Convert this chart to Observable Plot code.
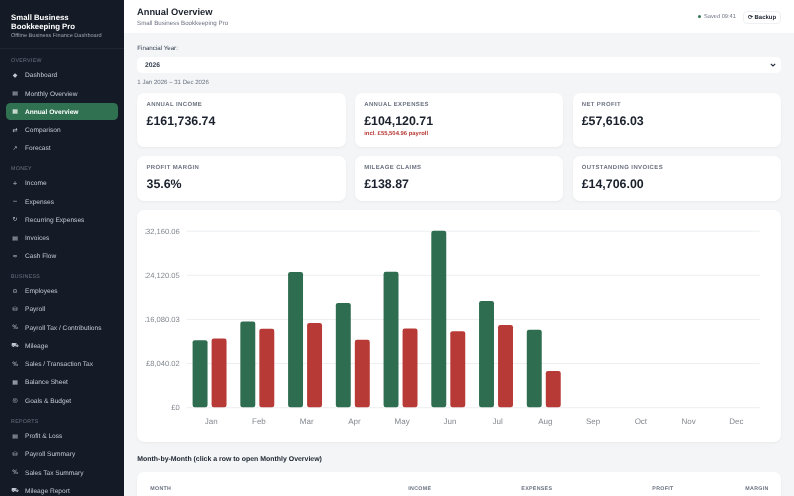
<!DOCTYPE html>
<html><head><meta charset="utf-8">
<script src="https://cdn.jsdelivr.net/npm/d3@7"></script>
<script src="https://cdn.jsdelivr.net/npm/@observablehq/plot@0.6"></script>
<style>
*{box-sizing:border-box;text-rendering:geometricPrecision}
html,body{margin:0;padding:0;width:794px;height:496px;overflow:hidden;background:#f3f5f7;font-family:"Liberation Sans",Arial,sans-serif;color:#1a202c}
#page{position:absolute;left:0;top:0;width:794px;height:496px;overflow:hidden;background:#f3f5f7;filter:blur(.3px)}
#side{position:absolute;left:0;top:0;width:124px;height:496px;background:#151b26;overflow:hidden}
#side .abs{position:absolute;white-space:nowrap}
.brand{left:11px;top:12.9px;font-size:7.8px;line-height:9px;font-weight:700;color:#fff;white-space:normal!important;width:105px}
.tag{left:11px;top:33.3px;font-size:5.6px;color:#9aa3b0}
.div{left:0;top:48px;width:124px;height:1px;background:#1f2632}
.sec{left:11px;font-size:5.3px;letter-spacing:.3px;color:#6b7483;line-height:6px}
.item{left:6px;width:112.3px;height:17.8px;line-height:17.8px;font-size:6.6px;color:#c3c9d3;border-radius:4.5px}
.item.on{background:#2f7150;color:#fff;font-weight:700}
.item i{position:absolute;left:4px;top:.8px;width:10px;text-align:center;font-style:normal;font-size:6px;font-family:"DejaVu Sans"}
.item span{position:absolute;left:19px;top:1.2px}
#head{position:absolute;left:124px;top:0;width:670px;height:33px;background:#fff}
#head .t{position:absolute;left:13px;top:7.2px;font-size:9.3px;font-weight:700}
#head .s{position:absolute;left:13px;top:20.4px;font-size:6.2px;color:#6b7280}
#head .sv{position:absolute;left:580px;top:14.2px;font-size:5.7px;color:#6b7280}
#head .dot{position:absolute;left:573.7px;top:15.2px;width:3px;height:3px;border-radius:50%;background:#2f7150}
#head .bk{position:absolute;left:619px;top:10.5px;width:38px;height:13px;line-height:12.6px;border:.7px solid #eef0f3;border-radius:4px;text-align:center;font-size:5.96px;font-weight:700}
.lab{position:absolute;left:137.3px;top:45.4px;font-size:6.2px;color:#374151}
#sel{position:absolute;left:137.3px;top:56.7px;width:643.4px;height:16.6px;line-height:18px;background:#fff;border-radius:5px;font-size:6.75px;color:#374151;padding-left:7.7px;font-weight:700}
#sel svg{position:absolute;right:4.5px;top:6.5px}
.rng{position:absolute;left:137.3px;top:78.8px;font-size:6.1px;color:#6b7280}
.card{position:absolute;background:#fff;border-radius:7px;box-shadow:0 1px 3px rgba(0,0,0,.05)}
.card .k{position:absolute;left:9.2px;top:8.9px;font-size:5.96px;letter-spacing:.4px;color:#6b7280;font-weight:700;white-space:nowrap}
.card .v{position:absolute;left:9.2px;top:21px;font-size:12.4px;font-weight:700;color:#1a202c;white-space:nowrap}
.card .n{position:absolute;left:9.2px;top:38.1px;font-size:5.9px;font-weight:700;color:#b83a36;white-space:nowrap}
#chart{left:137.3px;top:210px;width:643.4px;height:232px}
#plot{position:absolute;left:7.7px;top:0;width:625px;height:232px;overflow:hidden}
#plot svg{display:block;background:transparent;overflow:hidden}
.hr{position:absolute;left:151px;top:446px;width:619px;height:1px;background:#eff1f4}
.h2{position:absolute;left:137.3px;top:456.2px;font-size:6.95px;font-weight:700;color:#1a202c}
#tbl{left:137.3px;top:472px;width:643.4px;height:40px}
.th{position:absolute;top:13.8px;font-size:5.3px;letter-spacing:.3px;font-weight:700;color:#6b7280}
</style></head><body>
<div id="page">
<div id="side"></div><div id="head"></div>
<div class="lab">Financial Year:</div>
<div id="sel">2026<svg width="6" height="4" viewBox="0 0 6 4"><path d="M.8.8 3 3 5.2.8" fill="none" stroke="#1f2937" stroke-width="1.1"/></svg></div>
<div class="rng">1 Jan 2026 – 31 Dec 2026</div>
<div id="cards"></div>
<div class="card" id="chart"><div id="plot"></div></div>
<div class="hr"></div>
<div class="h2">Month-by-Month (click a row to open Monthly Overview)</div>
<div class="card" id="tbl"></div>
</div>
<script>
const months = ["Jan","Feb","Mar","Apr","May","Jun","Jul","Aug","Sep","Oct","Nov","Dec"];
const incomeValues = [12220,15620,24630,18970,24680,32160.06,19340,14116.68];
const expenseValues = [12510,14280,15320,12275,14340,13860,14960,6575.71];
const yTicks = [0,8040.02,16080.03,24120.05,32160.06];
const yTickLabels = ["£0","£8,040.02","£16,080.03","£24,120.05","£32,160.06"];
const incomeColor = "#2e6d4f";
const expenseColor = "#b83a36";

const navGroups = [
 ["OVERVIEW",[["◆","Dashboard"],["▤","Monthly Overview"],["▦","Annual Overview"],["⇄","Comparison"],["↗","Forecast"]]],
 ["MONEY",[["+","Income"],["−","Expenses"],["↻","Recurring Expenses"],["▤","Invoices"],["≈","Cash Flow"]]],
 ["BUSINESS",[["⊙","Employees"],["⛁","Payroll"],["%","Payroll Tax / Contributions"],["⛟","Mileage"],["%","Sales / Transaction Tax"],["▦","Balance Sheet"],["◎","Goals & Budget"]]],
 ["REPORTS",[["▤","Profit & Loss"],["⛁","Payroll Summary"],["%","Sales Tax Summary"],["⛟","Mileage Report"]]]
];
const sectionCenters = [60.3,168.3,276,421];
const cardData = [
 [137.3,93,208.4,53.7,"ANNUAL INCOME","£161,736.74",""],
 [355,93,208.4,53.7,"ANNUAL EXPENSES","£104,120.71","incl. £55,504.96 payroll"],
 [572.5,93,208.2,53.7,"NET PROFIT","£57,616.03",""],
 [137.3,156,208.4,44.7,"PROFIT MARGIN","35.6%",""],
 [355,156,208.4,44.7,"MILEAGE CLAIMS","£138.87",""],
 [572.5,156,208.2,44.7,"OUTSTANDING INVOICES","£14,706.00",""]
];
const tableHeads = [["MONTH",13],["INCOME",271],["EXPENSES",384],["PROFIT",515],["MARGIN",608]];

const side = document.getElementById("side");
let html = '<div class="abs brand">Small Business<br>Bookkeeping Pro</div><div class="abs tag">Offline Business Finance Dashboard</div><div class="abs div"></div>';
navGroups.forEach((g,i)=>{
  const c = sectionCenters[i];
  html += `<div class="abs sec" style="top:${c-2.4}px">${g[0]}</div>`;
  g[1].forEach((it,j)=>{
    const y = c+14.7-8.9+j*18.3;
    html += `<div class="abs item${it[1]==="Annual Overview"?" on":""}" style="top:${y}px"><i>${it[0]}</i><span>${it[1].replace("&","&amp;")}</span></div>`;
  });
});
side.innerHTML = html;
document.getElementById("head").innerHTML = '<div class="t">Annual Overview</div><div class="s">Small Business Bookkeeping Pro</div><div class="dot"></div><div class="sv">Saved 09:41</div><div class="bk">⟳ Backup</div>';
document.getElementById("cards").innerHTML = cardData.map(c=>`<div class="card" style="left:${c[0]}px;top:${c[1]}px;width:${c[2]}px;height:${c[3]}px"><div class="k">${c[4]}</div><div class="v">${c[5]}</div>${c[6]?`<div class="n">${c[6]}</div>`:""}</div>`).join("");
document.getElementById("tbl").innerHTML = tableHeads.map(h=>`<div class="th" style="left:${h[1]}px">${h[0]}</div>`).join("");

const incomeRows = incomeValues.map((value,i)=>({month:months[i],value}));
const expenseRows = expenseValues.map((value,i)=>({month:months[i],value}));
const barOptions = {x:"month",y:"value",rx:2.2,insetLeft:16.4,insetRight:16.4};

const chart = Plot.plot({
  width:625,height:232,
  marginLeft:41.8,marginRight:10.3,marginTop:20.7,marginBottom:34.8,
  style:{background:"transparent",fontFamily:"Liberation Sans, Arial, sans-serif",color:"#6b7280"},
  x:{domain:months,padding:0,round:false,label:null},
  y:{domain:[0,32160.06],label:null},
  marks:[
    Plot.ruleY(yTicks,{stroke:"#eceef1",strokeWidth:1}),
    Plot.barY(incomeRows,{...barOptions,fill:incomeColor,dx:-10.6}),
    Plot.barY(expenseRows,{...barOptions,fill:expenseColor,dx:8.4}),
    Plot.axisX({anchor:"bottom",tickSize:0,tickPadding:11,fontSize:8,label:null,fill:"#82888f"}),
    Plot.axisY({anchor:"left",ticks:yTicks,tickSize:0,tickPadding:7.5,tickFormat:(d)=>yTickLabels[yTicks.indexOf(d)],fontSize:7.6,label:null,fill:"#82888f"})
  ]
});
document.getElementById("plot").append(chart);
</script></body></html>
